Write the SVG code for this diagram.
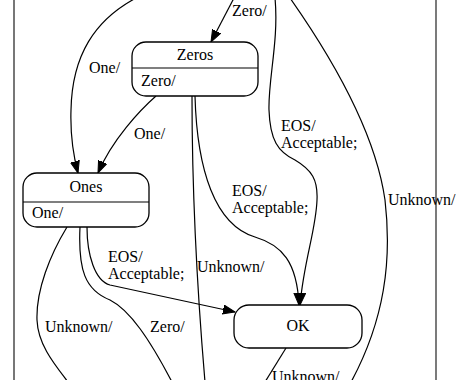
<svg xmlns="http://www.w3.org/2000/svg" width="460" height="380" viewBox="0 0 460 380">
<style>
text{font-family:'Liberation Serif','Times New Roman',Times,serif;font-size:16px;fill:#000}
.node{fill:#fff;stroke:#000;stroke-width:1.3}
.div{stroke:#000;stroke-width:1.2}
.edge{fill:none;stroke:#000;stroke-width:1.2}
.mid{text-anchor:middle}
</style>
<defs>
<marker id="ah" markerUnits="userSpaceOnUse" markerWidth="14" markerHeight="12" refX="12" refY="5" orient="auto">
<path d="M0,0.5 L12,5 L0,9.5 z" fill="#000" stroke="#000" stroke-width="1"/>
</marker>
</defs>
<rect width="460" height="380" fill="#fff"/>
<line x1="14" y1="0" x2="14" y2="380" stroke="#777" stroke-width="2"/>
<line x1="436" y1="0" x2="436" y2="380" stroke="#333" stroke-width="1.3"/>
<g id="connectors" font-family="Liberation Serif, serif">
<path class="edge" d="M234,-2 L211,42" marker-end="url(#ah)"/>
<path class="edge" d="M136,-2 C95,20 72,55 71,110 C70,140 74,158 78,173" marker-end="url(#ah)"/>
<path class="edge" d="M156,96 C140,110 112,140 98,173" marker-end="url(#ah)"/>
<path class="edge" d="M192,96 C192,200 198,300 205,382"/>
<path class="edge" d="M195,96 C197,170 215,225 255,237 C282,245 297,262 299,305" marker-end="url(#ah)"/>
<path class="edge" d="M275,-2 C279,40 268,80 269,110 C270,140 278,152 295,160 C312,170 318,180 317,200 C316,230 304,260 300,305" marker-end="url(#ah)"/>
<path class="edge" d="M290,-2 C330,55 375,130 385,200 C392,260 385,320 350,384"/>
<path class="edge" d="M87,227 C87,255 95,281 110,285 L235,312" marker-end="url(#ah)"/>
<path class="edge" d="M80,227 C78,270 85,290 110,300 C130,310 150,340 172,382"/>
<path class="edge" d="M67,227 C50,255 36,290 37,320 C38,345 55,365 68,382"/>
<path class="edge" d="M286,348 L265,382"/>
<text x="232" y="16">Zero/</text>
<text x="89" y="73">One/</text>
<text x="134" y="139">One/</text>
<text x="281" y="131">EOS/</text>
<text x="281" y="148">Acceptable;</text>
<text x="232" y="196">EOS/</text>
<text x="232" y="213">Acceptable;</text>
<text x="388" y="205">Unknown/</text>
<text x="108" y="262">EOS/</text>
<text x="108" y="279">Acceptable;</text>
<text x="197" y="272">Unknown/</text>
<text x="45" y="332">Unknown/</text>
<text x="150" y="332">Zero/</text>
<text x="272" y="382">Unknown/</text>
</g>
<g id="Zeros">
<rect class="node" x="132" y="42" width="126" height="54" rx="14"/>
<line class="div" x1="132" y1="68" x2="258" y2="68"/>
<text class="mid" x="195" y="60">Zeros</text>
<text x="141" y="86">Zero/</text>
</g>
<g id="Ones">
<rect class="node" x="23" y="173" width="126" height="54" rx="14"/>
<line class="div" x1="23" y1="202" x2="149" y2="202"/>
<text class="mid" x="86" y="192">Ones</text>
<text x="32" y="218">One/</text>
</g>
<g id="OK">
<rect class="node" x="234" y="305" width="128" height="43" rx="15"/>
<text class="mid" x="298" y="331">OK</text>
</g>
</svg>
